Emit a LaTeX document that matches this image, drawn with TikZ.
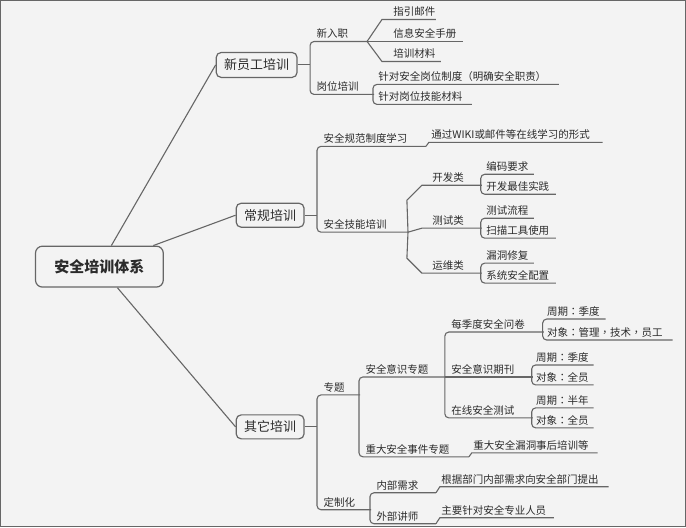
\documentclass[tikz,border=0pt]{standalone}
\usepackage{fontspec}
\setmainfont{Noto Sans CJK SC}
\newfontfamily\tcpunct{Noto Sans CJK TC}
\usetikzlibrary{calc}
\definecolor{bgc}{HTML}{F3F3F3}
\definecolor{lnc}{HTML}{666666}
\definecolor{txc}{HTML}{2B2B2B}
\newcommand\leaf[6]{%
  \pgfmathsetmacro\lfw{#3-#2}%
  \node[ul, text width=\lfw pt] (#1) at (#2,#4) {\noindent\hspace*{#5pt}#6};}
\newcommand\cc{{\tcpunct ：}}
\newcommand\cm{{\tcpunct ，}}
\begin{document}
\begin{tikzpicture}[x=1pt,y=-1pt,
  line width=1.1pt, draw=lnc,
  every path/.style={draw=lnc},
  ul/.style={anchor=south west, inner sep=0pt, text height=8pt, text depth=3pt,
    align=left, text=txc, font=\fontsize{10.5}{12}\selectfont},
  rc/.style={rounded corners=4pt},
  lvbox/.style={draw=lnc, line width=1.2pt, rounded corners=5pt, inner sep=0pt,
    text=txc, font=\fontsize{13}{15}\selectfont},
  rootbox/.style={draw=lnc, line width=1.2pt, rounded corners=7pt, inner sep=0pt,
    text=txc, font=\fontsize{15}{17}\selectfont\bfseries,
    minimum width=128pt, minimum height=41pt}]
\fill[bgc, draw=none] (0,0) rectangle (686,527);
\useasboundingbox (0,0) rectangle (686,527);

% root and level-1 boxes
\node[rootbox] (root) at (99,266.5) {安全培训体系};
\node[lvbox, minimum width=81pt, minimum height=25pt] (xy) at (256.5,64.5) {新员工培训};
\node[lvbox, minimum width=68pt, minimum height=24pt] (cg) at (270,215) {常规培训};
\node[lvbox, minimum width=68pt, minimum height=24pt] (qt) at (270,427) {其它培训};
\draw ([xshift=12pt]root.north) -- (xy.west);
\draw ([xshift=54pt]root.north) -- (cg.west);
\draw ([xshift=18pt]root.south) -- (qt.west);

% 新员工培训
\leaf{xr}{310}{366}{41}{6}{新入职}
\leaf{gw}{310}{373}{94}{6}{岗位培训}
\draw[rc] (xr.south east) -- (xr.south west) -- (gw.south west) -- (gw.south east);
\draw (xy.east) -- (xy.east -| xr.south west);
\leaf{zy}{382}{435}{19}{11}{指引邮件}
\leaf{xx}{382}{462}{41}{11}{信息安全手册}
\leaf{px}{382}{440}{61}{11}{培训材料}
\draw (xr.south east) -- (zy.south west) -- (zy.south east);
\draw (xr.south east) -- (xx.south west) -- (xx.south east);
\draw (xr.south east) -- (px.south west) -- (px.south east);
\leaf{zd}{373}{558}{84}{5}{针对安全岗位制度（明确安全职责）}
\leaf{zj}{373}{471}{104}{5}{针对岗位技能材料}
\draw[rc] (zd.south east) -- (zd.south west) -- (zj.south west) -- (zj.south east);

% 常规培训
\leaf{gf}{317}{425}{146}{6}{安全规范制度学习}
\leaf{jn}{317}{407}{232}{6}{安全技能培训}
\draw[rc] (gf.south east) -- (gf.south west) -- (jn.south west) -- (jn.south east);
\draw (cg.east) -- (cg.east -| gf.south west);
\leaf{wk}{429}{602}{142}{2}{通过WIKI或邮件等在线学习的形式}
\draw (gf.south east) -- (wk.south west) -- (wk.south east);
\leaf{kf}{422}{481}{185}{10}{开发类}
\leaf{cs}{422}{481}{228}{10}{测试类}
\leaf{yw}{422}{481}{273}{10}{运维类}
\draw (jn.south east) -- ($(kf.south west)+(-15,15)$) -- (kf.south west) -- (kf.south east);
\draw (jn.south east) -- (cs.south west) -- (cs.south east);
\draw (jn.south east) -- ($(yw.south west)+(-15,-15)$) -- (yw.south west) -- (yw.south east);
\leaf{bm}{481}{533}{174}{5}{编码要求}
\leaf{zs}{481}{555}{194}{5}{开发最佳实践}
\draw[rc] (bm.south east) -- (bm.south west) -- (zs.south west) -- (zs.south east);
\leaf{lc}{481}{533}{218}{5}{测试流程}
\leaf{sm}{481}{555}{238}{5}{扫描工具使用}
\draw[rc] (lc.south east) -- (lc.south west) -- (sm.south west) -- (sm.south east);
\leaf{ld}{481}{533}{263}{5}{漏洞修复}
\leaf{pz}{481}{555}{283}{5}{系统安全配置}
\draw[rc] (ld.south east) -- (ld.south west) -- (pz.south west) -- (pz.south east);

% 其它培训
\leaf{zt}{317}{359}{395}{6}{专题}
\leaf{dz}{317}{370}{510}{6}{定制化}
\draw[rc] (zt.south east) -- (zt.south west) -- (dz.south west) -- (dz.south east);
\draw (qt.east) -- (qt.east -| zt.south west);
\leaf{ys}{359}{445}{377}{6}{安全意识专题}
\leaf{zdsj}{359}{468}{457}{6}{重大安全事件专题}
\draw[rc] (ys.south east) -- (ys.south west) -- (zdsj.south west) -- (zdsj.south east);
\leaf{ldsh}{472}{597}{453}{1}{重大安全漏洞事后培训等}
\draw (zdsj.south east) -- (ldsh.south west) -- (ldsh.south east);
\leaf{wj}{445}{543}{332}{6}{每季度安全问卷}
\leaf{qk}{445}{532}{377}{6}{安全意识期刊}
\leaf{zx}{445}{532}{418}{6}{在线安全测试}
\draw[rc] (wj.south east) -- (wj.south west) -- (zx.south west) -- (zx.south east);
\draw (qk.south west) -- (qk.south east);
\leaf{zqa}{543}{605}{319}{4}{周期\cc 季度}
\leaf{dxa}{543}{672}{340}{4}{对象\cc 管理\cm 技术\cm 员工}
\draw[rc] (zqa.south east) -- (zqa.south west) -- (dxa.south west) -- (dxa.south east);
\leaf{zqb}{532}{593}{365}{4}{周期\cc 季度}
\leaf{dxb}{532}{593}{385}{4}{对象\cc 全员}
\draw[rc] (zqb.south east) -- (zqb.south west) -- (dxb.south west) -- (dxb.south east);
\leaf{zqc}{532}{593}{408}{4}{周期\cc 半年}
\leaf{dxc}{532}{593}{428}{4}{对象\cc 全员}
\draw[rc] (zqc.south east) -- (zqc.south west) -- (dxc.south west) -- (dxc.south east);
\leaf{nb}{370}{435}{493}{6}{内部需求}
\leaf{wb}{370}{435}{524}{6}{外部讲师}
\draw[rc] (nb.south east) -- (nb.south west) -- (wb.south west) -- (wb.south east);
\leaf{gj}{440}{608}{487}{1}{根据部门内部需求向安全部门提出}
\draw (nb.south east) -- (gj.south west) -- (gj.south east);
\leaf{zyry}{440}{553}{518}{1}{主要针对安全专业人员}
\draw (wb.south east) -- (zyry.south west) -- (zyry.south east);
\end{tikzpicture}
\end{document}
